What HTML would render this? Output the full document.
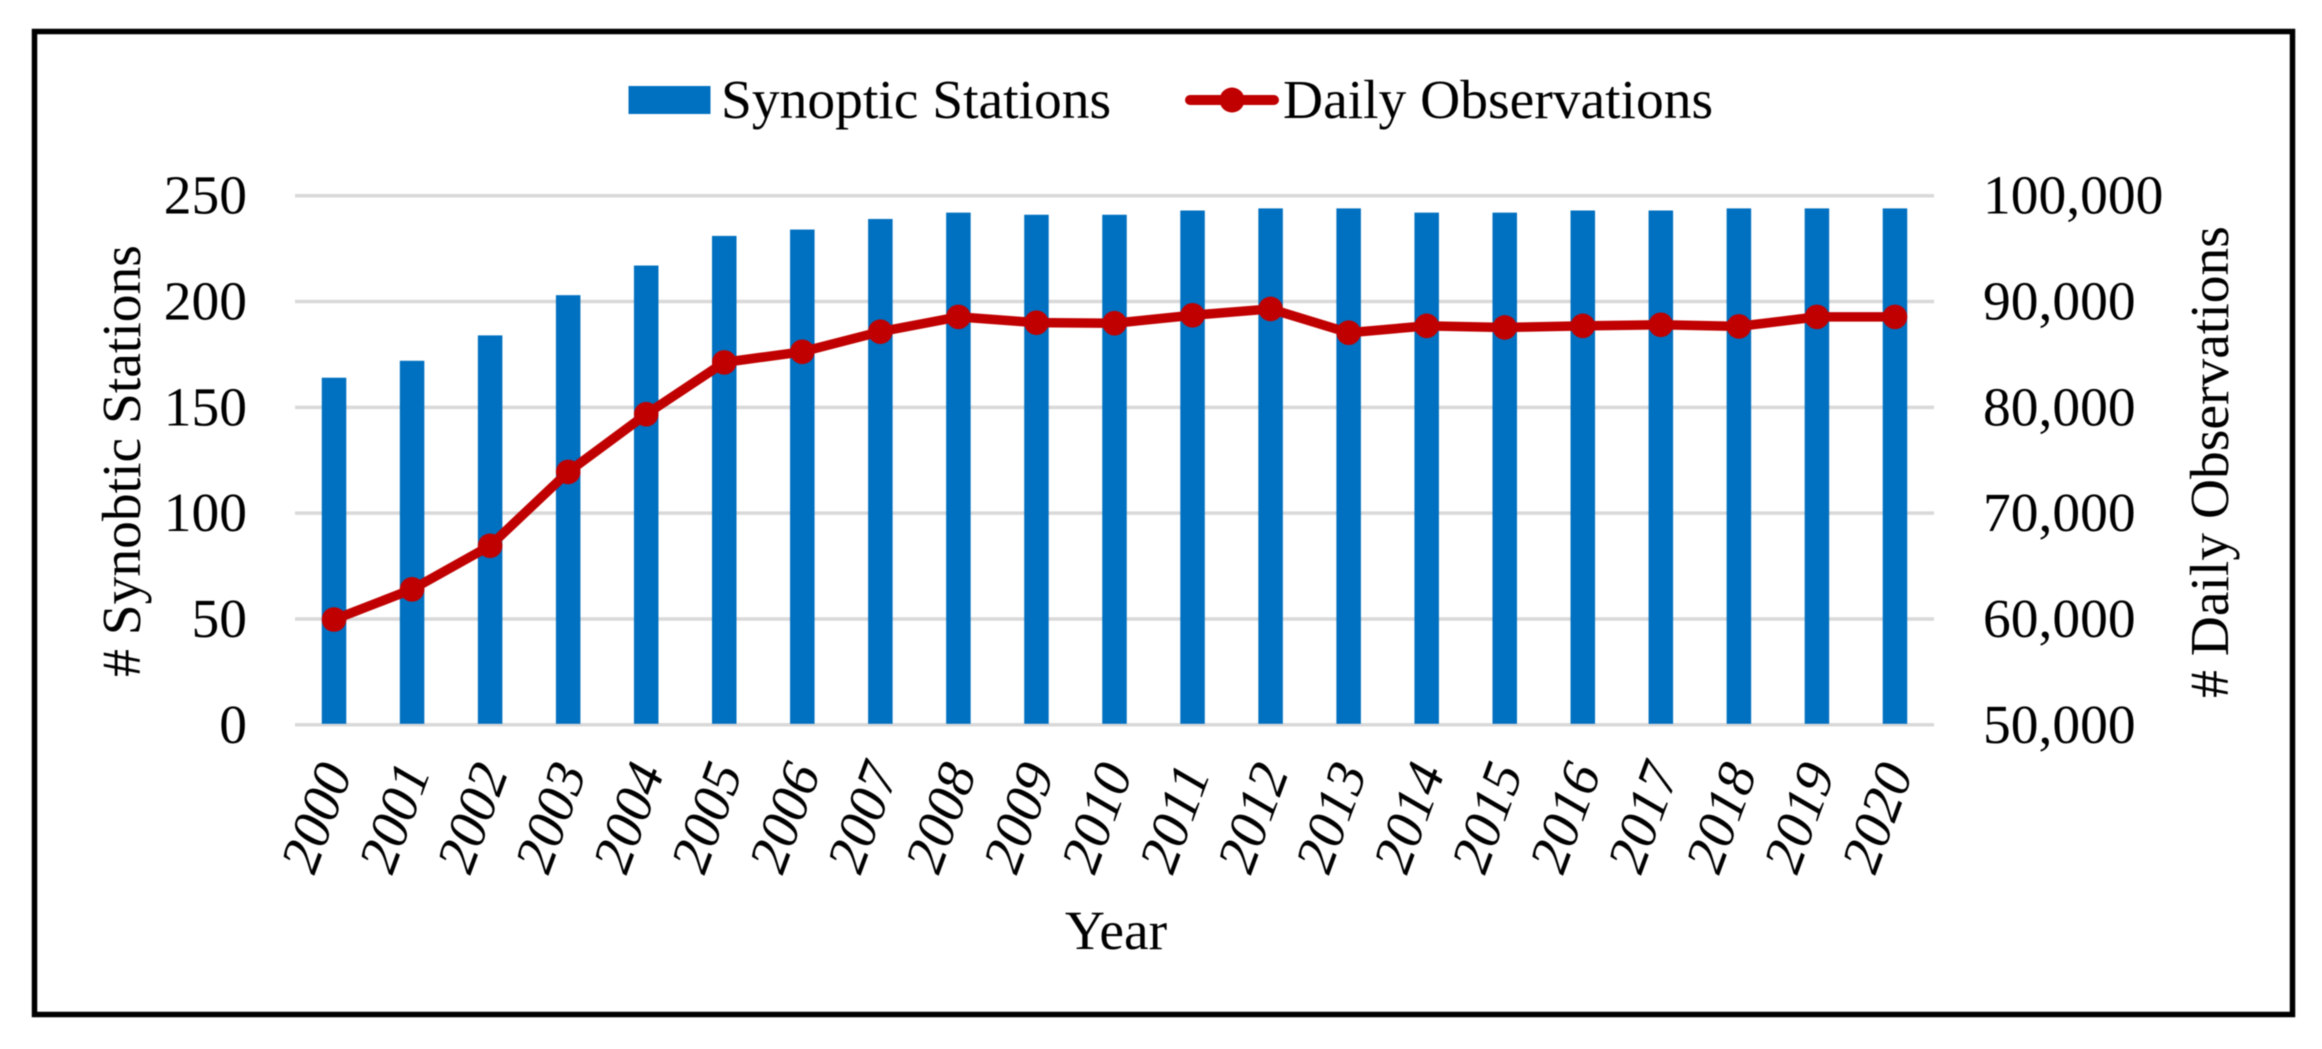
<!DOCTYPE html>
<html lang="en">
<head>
<meta charset="utf-8">
<title>Synoptic Stations and Daily Observations</title>
<style>
  html, body { margin: 0; padding: 0; background: #fff; }
  svg { display: block; filter: blur(0.6px); }
  text { font-family: "Liberation Serif", serif; font-size: 55.5px; fill: #000; }
</style>
</head>
<body>
<svg id="chart" xmlns="http://www.w3.org/2000/svg" width="2322" height="1049" viewBox="0 0 2322 1049">
  <rect x="0" y="0" width="2322" height="1049" fill="#fff"/>
  <rect x="34.5" y="31.5" width="2258" height="983" fill="none" stroke="#000" stroke-width="5.5"/>
  <g>
    <rect x="628.5" y="86" width="82" height="28" fill="#0070c0"/>
    <text x="721" y="118">Synoptic Stations</text>
    <line x1="1190" y1="100" x2="1274" y2="100" stroke="#c00000" stroke-width="10" stroke-linecap="round"/>
    <circle cx="1232" cy="100" r="12.5" fill="#c00000"/>
    <text x="1283" y="118">Daily Observations</text>
  </g>
  <g id="grid"></g>
  <g id="bars"></g>
  <g id="line"></g>
  <g id="leftTicks"></g>
  <g id="rightTicks"></g>
  <g id="xTicks"></g>
  <text transform="translate(140 461) rotate(-90)" text-anchor="middle"># Synobtic Stations</text>
  <text transform="translate(2228 462) rotate(-90)" text-anchor="middle"># Daily Observations</text>
  <text x="1116" y="949" text-anchor="middle">Year</text>
</svg>
<script>
const years = ["2000","2001","2002","2003","2004","2005","2006","2007","2008","2009","2010","2011","2012","2013","2014","2015","2016","2017","2018","2019","2020"];
const stations = [164,172,184,203,217,231,234,239,242,241,241,243,244,244,242,242,243,243,244,244,244];
const observations = [59950,62800,66920,73900,79350,84250,85250,87150,88550,88000,87950,88700,89300,87050,87700,87550,87700,87800,87650,88550,88550];
const leftTickValues = [0,50,100,150,200,250];
const rightTickValues = [50000,60000,70000,80000,90000,100000];

const SVG_NS = "http://www.w3.org/2000/svg";
const plotLeft = 295, plotRight = 1934, plotTop = 195.7, plotBottom = 724.8;
const barWidth = 24.5;

function xScale(i) { return plotLeft + (i + 0.5) * (plotRight - plotLeft) / years.length; }
function yLeft(v) { return plotBottom - (v / 250) * (plotBottom - plotTop); }
function yRight(v) { return plotBottom - ((v - 50000) / 50000) * (plotBottom - plotTop); }
function make(tag, attrs, parent) {
  const el = document.createElementNS(SVG_NS, tag);
  for (const k in attrs) el.setAttribute(k, attrs[k]);
  parent.appendChild(el);
  return el;
}

const gridGroup = document.getElementById("grid");
const barsGroup = document.getElementById("bars");
const lineGroup = document.getElementById("line");
const leftGroup = document.getElementById("leftTicks");
const rightGroup = document.getElementById("rightTicks");
const xGroup = document.getElementById("xTicks");

leftTickValues.forEach(function (v) {
  const y = yLeft(v);
  const g = make("line", { x1: plotLeft, x2: plotRight, y1: y, y2: y, stroke: "#d9d9d9", "stroke-width": 3.5 }, gridGroup);
  
  
  const t = make("text", { x: 247, y: y + 18, "text-anchor": "end" }, leftGroup);
  t.textContent = String(v);
  
  
});

rightTickValues.forEach(function (v) {
  const t = make("text", { x: 1983, y: yRight(v) + 18 }, rightGroup);
  t.textContent = v.toLocaleString("en-US");
  
  
});

stations.forEach(function (v, i) {
  const y = yLeft(v);
  const b = make("rect", { x: xScale(i) - barWidth / 2, y: y, width: barWidth, height: plotBottom - 1 - y, fill: "#0070c0" }, barsGroup);
  
  
});

const linePoints = observations.map(function (v, i) { return xScale(i) + "," + yRight(v); }).join(" ");
const path = make("polyline", { points: linePoints, fill: "none", stroke: "#c00000", "stroke-width": 9.5, "stroke-linejoin": "round", "stroke-linecap": "round" }, lineGroup);



observations.forEach(function (v, i) {
  const c = make("circle", { cx: xScale(i), cy: yRight(v), r: 12.3, fill: "#c00000" }, lineGroup);
  
  
});

years.forEach(function (label, i) {
  const t = make("text", { transform: "matrix(0.347 -0.938 0.87 0.5 " + (xScale(i) - 20.7) + " 878)" }, xGroup);
  t.textContent = label;
  
  
});
</script>
</body>
</html>
